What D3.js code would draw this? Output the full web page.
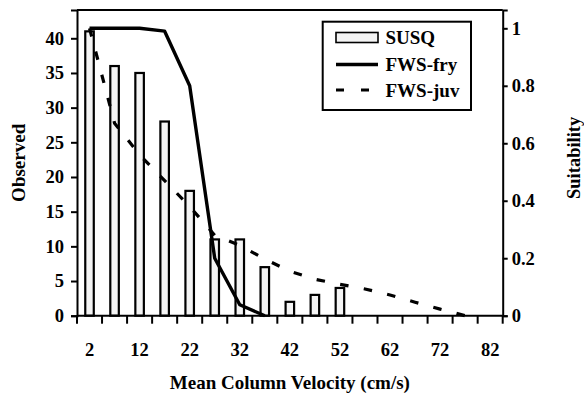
<!DOCTYPE html>
<html><head><meta charset="utf-8">
<script src="https://cdn.jsdelivr.net/npm/d3@7/dist/d3.min.js"></script>
<style>
html,body{margin:0;padding:0;background:#fff;}
svg{display:block;}
text{font-family:"Liberation Serif","Times New Roman",serif;font-weight:bold;fill:#000;}
</style></head>
<body>
<svg id="chart" width="584" height="396"></svg>
<script>
const categories = [2,7,12,17,22,27,32,37,42,47,52,57,62,67,72,77,82];
const tickLabels = ["2","12","22","32","42","52","62","72","82"];
const observed = [41,36,35,28,18,11,11,7,2,3,4,0,0,0,0,0,0];
const fwsFry = [1,1,1,0.99,0.8,0.2,0.038,0,null,null,null,null,null,null,null,null,null];
const fwsJuv = [1,0.67,0.56,0.47,0.38,0.28,0.245,0.197,0.155,0.127,0.109,0.093,0.072,0.047,0.023,0,null];
const leftTicks = [0,5,10,15,20,25,30,35,40];
const rightTicks = [0,0.2,0.4,0.6,0.8,1];
const seriesNames = ["SUSQ","FWS-fry","FWS-juv"];

const svg = d3.select("#chart");
const L = 77, R = 502.7, T = 10, B = 315.7;

const x = d3.scaleBand().domain(categories).range([L, R]).paddingInner(0).paddingOuter(0);
const yL = d3.scaleLinear().domain([0, 44.08]).range([B, T]);
const yR = d3.scaleLinear().domain([0, 1.0637]).range([B, T]);

// bars
const bw = x.bandwidth() * 0.34;
svg.append("g").selectAll("rect")
  .data(categories.map((c,i)=>({c, v: observed[i]})).filter(d=>d.v>0))
  .join("rect")
  .attr("x", d => x(d.c) + x.bandwidth()/2 - bw/2)
  .attr("y", d => yL(d.v))
  .attr("width", bw)
  .attr("height", d => yL(0) - yL(d.v))
  .attr("fill", "#f4f4f4")
  .attr("stroke", "#000")
  .attr("stroke-width", 2.2);

// lines
const line = (vals) => d3.line()
  .defined((d,i) => vals[i] !== null)
  .x((d,i) => x(categories[i]) + x.bandwidth()/2)
  .y((d,i) => yR(vals[i]))(vals);

svg.append("path").attr("d", line(fwsJuv))
  .attr("fill","none").attr("stroke","#000").attr("stroke-width",3.2)
  .attr("stroke-dasharray","8.5,15.5");
svg.append("path").attr("d", line(fwsFry))
  .attr("fill","none").attr("stroke","#000").attr("stroke-width",3.4)
  .attr("stroke-linejoin","round");

// frame top
svg.append("line").attr("x1",L).attr("x2",R).attr("y1",T).attr("y2",T)
  .attr("stroke","#000").attr("stroke-width",2);

// left axis
const gL = svg.append("g").attr("transform",`translate(${L},0)`)
  .call(d3.axisLeft(yL).tickValues(leftTicks).tickSize(6).tickPadding(7).tickFormat(d3.format("d")));
// right axis
const gR = svg.append("g").attr("transform",`translate(${R},0)`)
  .call(d3.axisRight(yR).tickValues(rightTicks).tickSize(5).tickPadding(4).tickFormat(d => d===0||d===1 ? String(d) : d3.format(".1f")(d)));
// bottom axis: labels at centers of every other category
const gB = svg.append("g").attr("transform",`translate(0,${B})`)
  .call(d3.axisBottom(x).tickValues(categories.filter(c => tickLabels.includes(String(c)))).tickSize(0).tickPadding(27));
// boundary ticks
svg.append("g").selectAll("line")
  .data(categories.map(c => x(c)).concat([x.range()[1]]))
  .join("line")
  .attr("x1", d => d).attr("x2", d => d)
  .attr("y1", B).attr("y2", B + 8)
  .attr("stroke","#000").attr("stroke-width",2);

[gL,gR,gB].forEach(g => {
  g.select(".domain").attr("stroke","#000").attr("stroke-width",2);
  g.selectAll(".tick line").attr("stroke","#000").attr("stroke-width",2);
  g.selectAll(".tick text").style("font-size","18.5px").attr("font-family",null);
});
gB.select(".domain").attr("d", `M${L},0H${R}`);

// axis titles
svg.append("text").attr("x",(L+R)/2).attr("y",389).attr("text-anchor","middle")
  .style("font-size","19px").text("Mean Column Velocity (cm/s)");
svg.append("text").attr("transform",`translate(25,${(T+B)/2}) rotate(-90)`)
  .attr("text-anchor","middle").style("font-size","19px").text("Observed");
svg.append("text").attr("transform",`translate(580,${(T+B)/2 - 5}) rotate(-90)`)
  .attr("text-anchor","middle").style("font-size","18.5px").text("Suitability");

// legend
const lg = svg.append("g");
lg.append("rect").attr("x",322.7).attr("y",21.7).attr("width",148.3).attr("height",88.3)
  .attr("fill","#fff").attr("stroke","#000").attr("stroke-width",2);
const rowY = [37.5, 64.5, 90];
lg.append("rect").attr("x",336).attr("y",rowY[0]-5).attr("width",42).attr("height",10)
  .attr("fill","#f4f4f4").attr("stroke","#000").attr("stroke-width",1.6);
lg.append("line").attr("x1",336).attr("x2",378).attr("y1",rowY[1]).attr("y2",rowY[1])
  .attr("stroke","#000").attr("stroke-width",3.4);
lg.append("line").attr("x1",336).attr("x2",378).attr("y1",rowY[2]).attr("y2",rowY[2])
  .attr("stroke","#000").attr("stroke-width",3.2).attr("stroke-dasharray","8,17");
lg.selectAll("text.leg").data(seriesNames).join("text").attr("class","leg")
  .attr("x",385.5).attr("y",(d,i)=>rowY[i]+6.5)
  .style("font-size","19px").text(d=>d);
</script>
</body></html>
